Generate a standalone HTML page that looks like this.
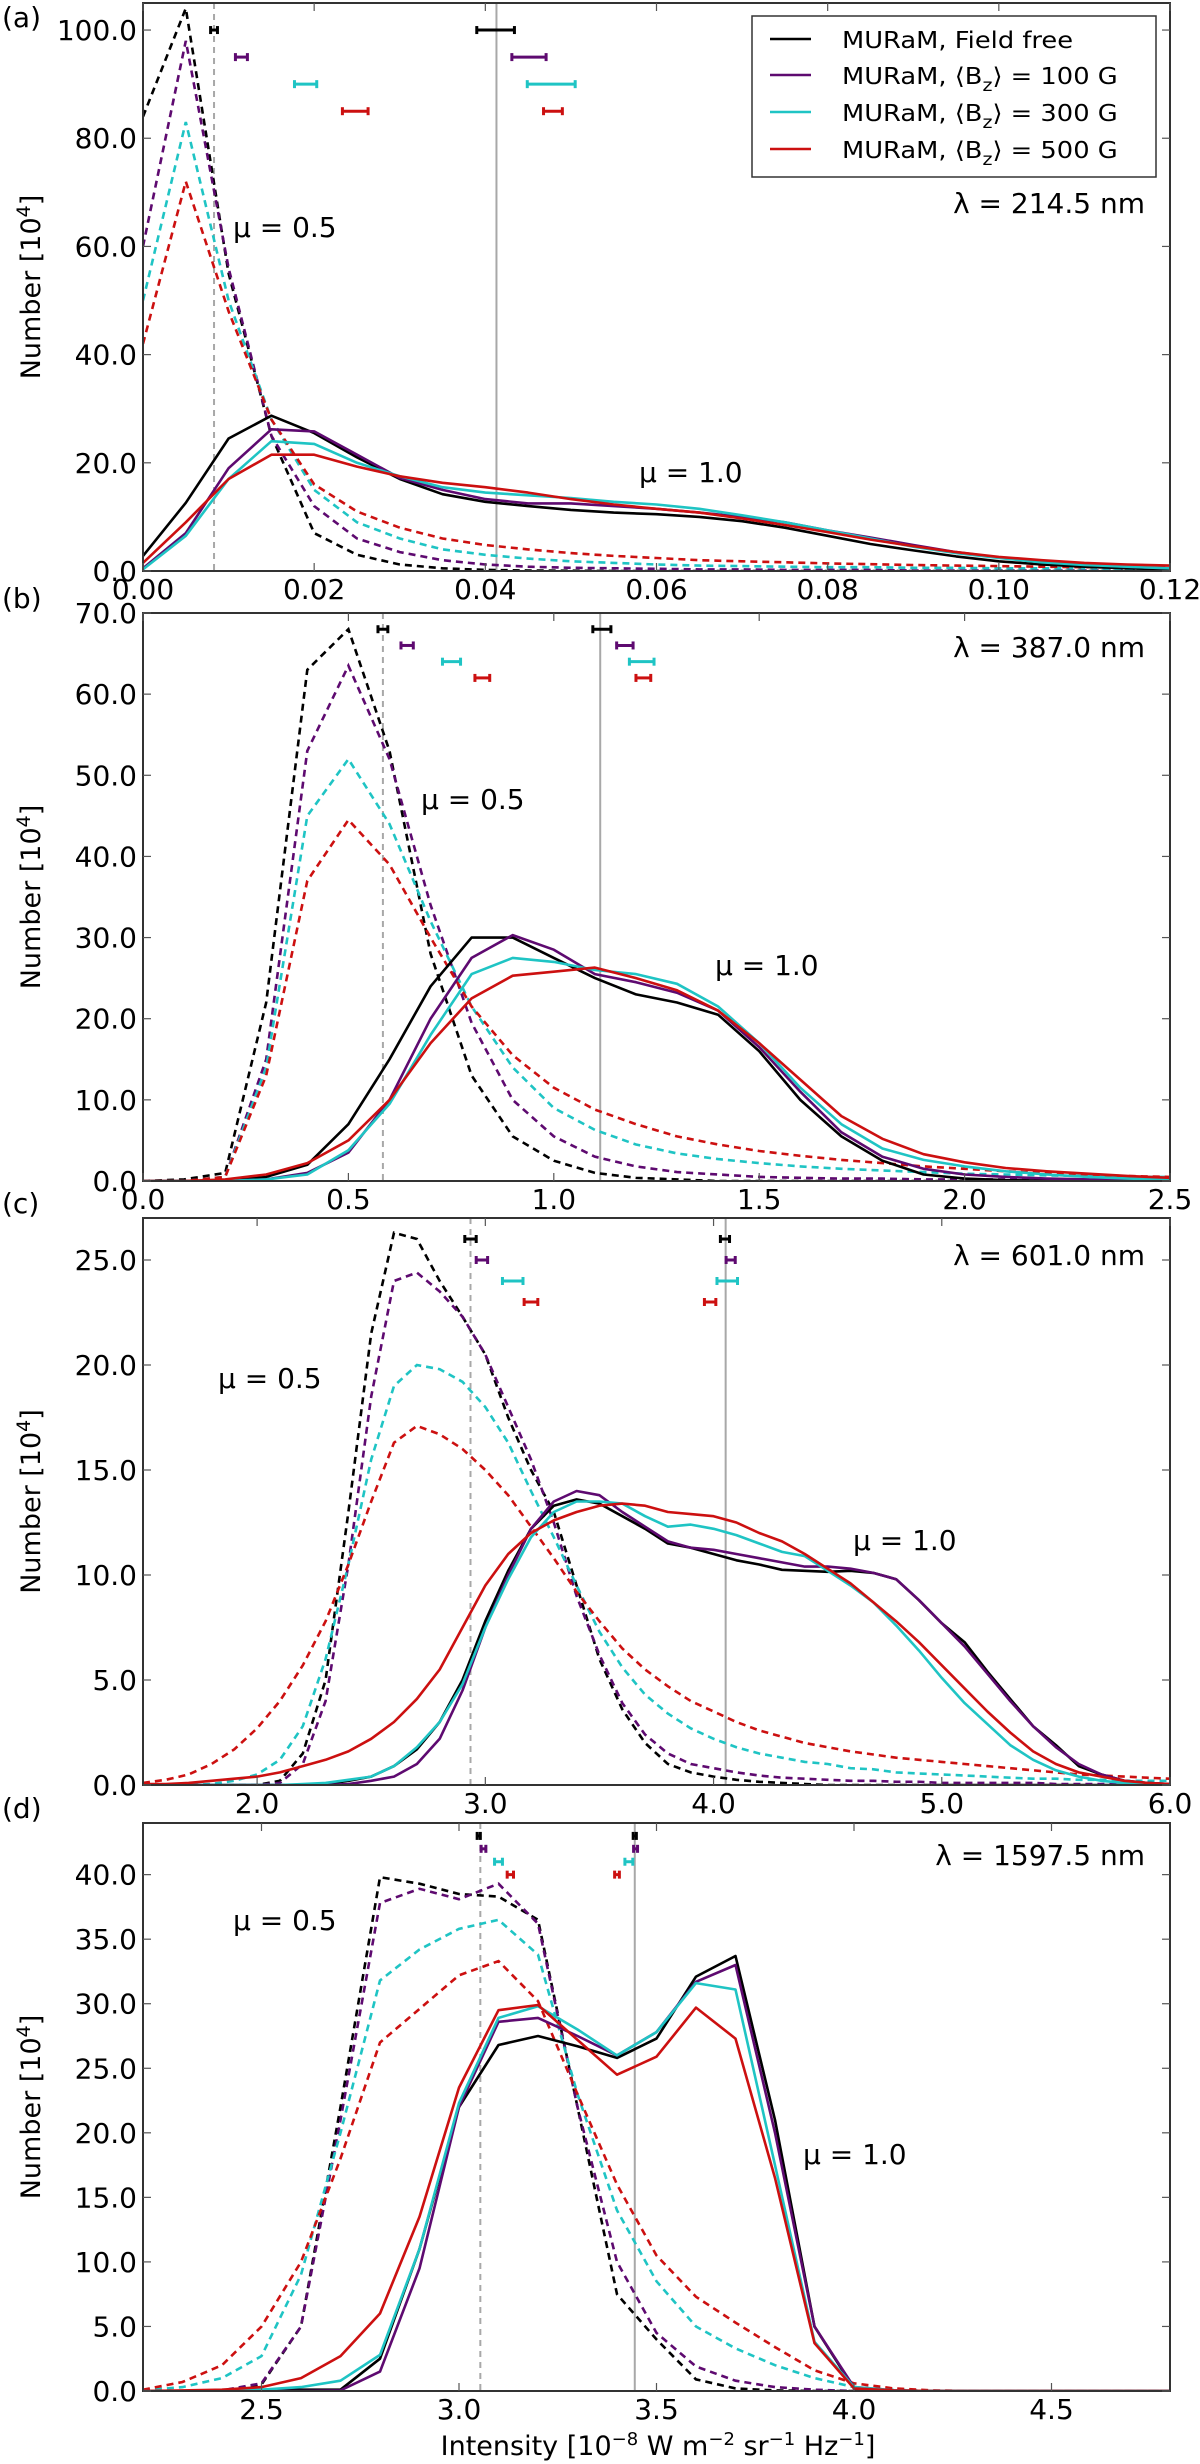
<!DOCTYPE html>
<html><head><meta charset="utf-8">
<style>
html,body{margin:0;padding:0;background:#fff;}
svg{display:block;}
text{font-family:"DejaVu Sans","Liberation Sans",sans-serif;fill:#000;}
</style></head>
<body>
<svg id="fig" xmlns="http://www.w3.org/2000/svg" width="1200" height="2464" viewBox="0 0 1200 2464"></svg>
<script>
// ---------- Panel (a) data: 214.5 nm ----------
const aX = [0,0.005,0.01,0.015,0.02,0.025,0.03,0.035,0.04,0.045,0.05,0.055,0.06,0.065,0.07,0.075,0.08,0.085,0.09,0.095,0.1,0.105,0.11,0.115,0.12];
const aFreeMu1 = [2.8,12.6,24.5,28.7,25.5,21,17,14.2,12.8,12,11.3,10.8,10.5,10,9.2,8,6.5,5,3.8,2.7,1.8,1.2,0.8,0.5,0.3];
const a100Mu1  = [0.5,7,19,26.2,25.8,21.5,17.2,15,13.3,12.5,12.5,12,11.5,10.8,10,9,7.5,6.2,4.8,3.5,2.5,1.8,1.2,0.8,0.5];
const a300Mu1  = [0.3,6.5,17,24,23.5,20,17.5,15.5,14.5,14,13.5,12.8,12.3,11.5,10.3,9,7.5,6,4.5,3.3,2.4,1.6,1.1,0.8,0.5];
const a500Mu1  = [1.5,9,17,21.5,21.5,19.3,17.5,16.3,15.5,14.5,13.3,12.3,11.5,10.8,9.7,8.5,7.2,5.8,4.6,3.5,2.6,2,1.5,1.2,1.0];
const aFreeMu05 = [84,104,55,25,7,3,1.2,0.5,0.2,0.1,0.05,0,0,0,0,0,0,0,0,0,0,0,0,0,0];
const a100Mu05  = [60,98,56,25,12,6,3.5,2,1.2,0.8,0.6,0.5,0.4,0.3,0.3,0.2,0.2,0.2,0.1,0.1,0.1,0.1,0.1,0.1,0.1];
const a300Mu05  = [50,83,50,28,15,9,6,4,3,2.3,1.8,1.5,1.2,1.0,0.9,0.8,0.7,0.7,0.6,0.6,0.5,0.5,0.5,0.4,0.4];
const a500Mu05  = [42,72,48,28,16,11,8,6,4.8,4,3.3,2.8,2.4,2,1.8,1.6,1.4,1.25,1.1,1.0,0.9,0.8,0.7,0.65,0.6];
const aMeanLines = [0.0083,0.0413];
const aErrY = [100,95,90,85];
const aErrLeftC = [0.0083,0.0115,0.019,0.0248];
const aErrLeftW = [0.0004,0.0007,0.0013,0.0015];
const aErrRightC = [0.0412,0.0451,0.0477,0.0479];
const aErrRightW = [0.0022,0.002,0.0028,0.0011];
const aYTicks = [0,20,40,60,80,100];
const aYLabels = ["0.0","20.0","40.0","60.0","80.0","100.0"];
const aXTicks = [0,0.02,0.04,0.06,0.08,0.10,0.12];
const aXLabels = ["0.00","0.02","0.04","0.06","0.08","0.10","0.12"];

// ---------- Panel (b) data: 387.0 nm ----------
const bX = [0,0.1,0.2,0.3,0.4,0.5,0.6,0.7,0.8,0.9,1.0,1.1,1.2,1.3,1.4,1.5,1.6,1.7,1.8,1.9,2.0,2.1,2.2,2.3,2.4,2.5];
const bFreeMu1 = [0,0,0,0.5,2,7,15,24,30,30,27.5,25,23,22,20.5,16,10,5.5,2.5,0.8,0.3,0.1,0.05,0,0,0];
const b100Mu1  = [0,0,0,0.2,1,3.5,10,20,27.5,30.3,28.5,25.5,24.5,23.2,21,16.5,11,6,3,1.5,0.8,0.5,0.3,0.2,0.1,0.1];
const b300Mu1  = [0,0,0,0.2,0.8,3.8,9.5,18,25.5,27.5,27,26,25.5,24.3,21.5,17,11.5,7,4,2.6,1.8,1.2,0.8,0.5,0.3,0.2];
const b500Mu1  = [0,0,0.2,0.8,2.2,5,10,17,22.5,25.3,25.8,26.3,25,23.5,21,17,12.5,8,5.2,3.3,2.3,1.6,1.2,0.9,0.6,0.4];
const bFreeMu05 = [0,0.2,1,22,63,68,53,28,13,5.5,2.5,1,0.4,0.2,0,0,0,0,0,0,0,0,0,0,0,0];
const b100Mu05  = [0,0,0.5,15,53,63.5,52,34,19.5,10,5.5,3,1.8,1.1,0.8,0.5,0.4,0.3,0.3,0.2,0.2,0.2,0.2,0.2,0.2,0.2];
const b300Mu05  = [0,0,0.5,14,45,52,44,32,21.5,14,9,6.3,4.5,3.4,2.7,2.2,1.8,1.5,1.3,1.1,0.9,0.8,0.7,0.6,0.5,0.5];
const b500Mu05  = [0,0,0.5,13,37,44.5,39,30,21.5,15.5,11.5,8.8,7,5.5,4.5,3.7,3.1,2.6,2.2,1.8,1.5,1.2,1.0,0.8,0.6,0.5];
const bMeanLines = [0.584,1.113];
const bErrY = [68,66,64,62];
const bErrLeftC = [0.584,0.643,0.751,0.826];
const bErrLeftW = [0.012,0.015,0.022,0.018];
const bErrRightC = [1.117,1.173,1.214,1.218];
const bErrRightW = [0.022,0.02,0.03,0.018];
const bYTicks = [0,10,20,30,40,50,60,70];
const bYLabels = ["0.0","10.0","20.0","30.0","40.0","50.0","60.0","70.0"];
const bXTicks = [0,0.5,1.0,1.5,2.0,2.5];
const bXLabels = ["0.0","0.5","1.0","1.5","2.0","2.5"];

// ---------- Panel (c) data: 601.0 nm ----------
const cX = [1.5,1.6,1.7,1.8,1.9,2.0,2.1,2.2,2.3,2.4,2.5,2.6,2.7,2.8,2.9,3.0,3.1,3.2,3.3,3.4,3.5,3.6,3.7,3.8,3.9,4.0,4.1,4.2,4.3,4.4,4.5,4.6,4.7,4.8,4.9,5.0,5.1,5.2,5.3,5.4,5.5,5.6,5.7,5.8,5.9,6.0];
const cFreeMu1 = [0,0,0,0,0,0,0,0,0.05,0.2,0.4,0.9,1.7,3.0,5.0,7.8,10.2,12.2,13.3,13.6,13.4,12.8,12.2,11.5,11.3,11.0,10.7,10.5,10.25,10.2,10.15,10.2,10.1,9.8,8.8,7.7,6.8,5.4,4.1,2.8,1.9,0.9,0.5,0.2,0.1,0.05];
const c100Mu1  = [0,0,0,0,0,0,0,0,0,0.05,0.2,0.4,1.0,2.2,4.5,7.5,10.0,12.2,13.5,14.0,13.8,13.0,12.3,11.6,11.3,11.2,11.0,10.8,10.6,10.4,10.4,10.3,10.1,9.8,8.8,7.7,6.6,5.3,4.0,2.8,1.8,1.0,0.5,0.2,0.1,0.05];
const c300Mu1  = [0,0,0,0,0,0,0,0.05,0.1,0.25,0.4,0.9,1.8,3.0,4.8,7.5,9.8,11.8,13.0,13.5,13.5,13.4,12.8,12.3,12.4,12.2,11.9,11.5,11.1,10.9,10.2,9.5,8.7,7.6,6.4,5.1,3.9,2.9,1.9,1.2,0.7,0.4,0.2,0.1,0.05,0];
const c500Mu1  = [0.05,0.05,0.1,0.2,0.3,0.4,0.6,0.9,1.2,1.6,2.2,3.0,4.1,5.5,7.5,9.5,11.0,12.0,12.6,13.0,13.3,13.4,13.3,13.0,12.9,12.8,12.5,12.0,11.6,11.0,10.3,9.6,8.7,7.8,6.8,5.7,4.6,3.5,2.5,1.6,1.0,0.6,0.4,0.2,0.1,0.05];
const cFreeMu05 = [0,0,0,0,0,0,0.2,1.5,5,13,21.5,26.3,26.0,24.0,22.3,20.5,17.5,15,13,9.5,6,3.6,2,1.0,0.6,0.4,0.25,0.15,0.1,0.05,0,0,0,0,0,0,0,0,0,0,0,0,0,0,0,0];
const c100Mu05  = [0,0,0,0,0,0,0.1,1.0,4,10.5,18.5,24,24.4,23.5,22.3,20.5,18,15.5,12.5,9,6.2,3.9,2.4,1.5,1.0,0.8,0.6,0.45,0.35,0.3,0.25,0.2,0.2,0.15,0.15,0.1,0.1,0.1,0.1,0.1,0.05,0.05,0.05,0.05,0.05,0.05];
const c300Mu05  = [0,0,0,0.05,0.2,0.5,1.2,2.8,6,10.5,15.5,19,20,19.8,19.2,18,16.3,14,11.8,9.5,7.3,5.6,4.3,3.4,2.7,2.2,1.8,1.5,1.3,1.1,1.0,0.8,0.75,0.6,0.55,0.5,0.45,0.4,0.35,0.3,0.3,0.25,0.25,0.2,0.2,0.2];
const c500Mu05  = [0.1,0.25,0.5,1.0,1.7,2.7,4.0,5.7,7.8,10.5,13.5,16.3,17.1,16.7,16.0,15.0,13.8,12.3,10.8,9.2,7.8,6.5,5.5,4.7,4.0,3.5,3.0,2.6,2.3,2.0,1.8,1.6,1.45,1.3,1.2,1.1,1.0,0.9,0.8,0.7,0.6,0.5,0.45,0.4,0.35,0.3];
const cMeanLines = [2.935,4.053];
const cErrY = [26,25,24,23];
const cErrLeftC = [2.935,2.985,3.12,3.2];
const cErrLeftW = [0.025,0.025,0.045,0.03];
const cErrRightC = [4.05,4.075,4.06,3.985];
const cErrRightW = [0.02,0.02,0.045,0.025];
const cYTicks = [0,5,10,15,20,25];
const cYLabels = ["0.0","5.0","10.0","15.0","20.0","25.0"];
const cXTicks = [2,3,4,5,6];
const cXLabels = ["2.0","3.0","4.0","5.0","6.0"];

// ---------- Panel (d) data: 1597.5 nm ----------
const dX = [2.2,2.3,2.4,2.5,2.6,2.7,2.8,2.9,3.0,3.1,3.2,3.3,3.4,3.5,3.6,3.7,3.8,3.9,4.0,4.1,4.2,4.3,4.4,4.5,4.6,4.7,4.8];
const dFreeMu1 = [0,0,0,0.1,0.1,0.1,2.5,11,22,26.8,27.5,26.7,25.8,27.3,32.1,33.7,21,5,0.2,0.05,0,0,0,0,0,0,0];
const d100Mu1  = [0,0,0,0,0,0.05,1.5,9.5,22,28.6,28.9,27.5,26,27.8,31.7,33.0,20,5,0.3,0.05,0,0,0,0,0,0,0];
const d300Mu1  = [0,0,0,0.1,0.3,0.8,2.8,11,22.3,28.9,29.8,28,26,27.8,31.6,31.1,17.5,3.8,0.3,0.05,0,0,0,0,0,0,0];
const d500Mu1  = [0,0.05,0.1,0.3,1.0,2.7,6,13.5,23.5,29.5,29.9,27.2,24.5,25.9,29.7,27.3,16.5,3.7,0.2,0.05,0,0,0,0,0,0,0];
const dFreeMu05 = [0,0,0.05,0.5,5,22,39.8,39.3,38.5,38.3,36.5,22,7.5,4,0.9,0.2,0.05,0,0,0,0,0,0,0,0,0,0];
const d100Mu05  = [0,0,0.05,0.6,5,21,37.8,38.9,38.1,39.3,36.2,22,10,4.5,1.9,0.8,0.3,0.1,0,0,0,0,0,0,0,0,0];
const d300Mu05  = [0.05,0.3,1.0,2.7,9,20,31.8,34.2,35.8,36.5,33.8,23,14,8.5,5,3.3,2,1.0,0.3,0.1,0,0,0,0,0,0,0];
const d500Mu05  = [0.1,0.7,2,5,10,18,27,29.6,32.2,33.3,30.2,23,16,10.5,7.3,5.3,3.4,1.6,0.6,0.2,0.05,0,0,0,0,0,0];
const dMeanLines = [3.054,3.445];
const dErrY = [43,42,41,40];
const dErrLeftC = [3.05,3.062,3.1,3.13];
const dErrLeftW = [0.004,0.006,0.01,0.008];
const dErrRightC = [3.445,3.447,3.43,3.4];
const dErrRightW = [0.004,0.005,0.01,0.006];
const dYTicks = [0,5,10,15,20,25,30,35,40];
const dYLabels = ["0.0","5.0","10.0","15.0","20.0","25.0","30.0","35.0","40.0"];
const dXTicks = [2.5,3.0,3.5,4.0,4.5];
const dXLabels = ["2.5","3.0","3.5","4.0","4.5"];

const COLORS = ["#000000","#5e0a70","#1fc4c4","#cc1010"];
const NS = "http://www.w3.org/2000/svg";
const svg = document.getElementById('fig');
function mk(tag, attrs, parent){
  const e = document.createElementNS(NS, tag);
  for (const k in attrs) e.setAttribute(k, attrs[k]);
  (parent||svg).appendChild(e);
  return e;
}

const L = 143, R = 1170;
const panels = [
  {id:'a', top:3, bot:571, xmin:0, xmax:0.12, ymax:105, x:aX, mu1:[aFreeMu1,a100Mu1,a300Mu1,a500Mu1], mu05:[aFreeMu05,a100Mu05,a300Mu05,a500Mu05],
   means:aMeanLines, ey:aErrY, elc:aErrLeftC, elw:aErrLeftW, erc:aErrRightC, erw:aErrRightW, yt:aYTicks, yl:aYLabels, xt:aXTicks, xl:aXLabels,
   lam:"λ = 214.5 nm", lamY:213, m05:[233,237], m10:[639,482]},
  {id:'b', top:613, bot:1181, xmin:0, xmax:2.5, ymax:70, x:bX, mu1:[bFreeMu1,b100Mu1,b300Mu1,b500Mu1], mu05:[bFreeMu05,b100Mu05,b300Mu05,b500Mu05],
   means:bMeanLines, ey:bErrY, elc:bErrLeftC, elw:bErrLeftW, erc:bErrRightC, erw:bErrRightW, yt:bYTicks, yl:bYLabels, xt:bXTicks, xl:bXLabels,
   lam:"λ = 387.0 nm", lamY:657, m05:[421,809], m10:[715,975]},
  {id:'c', top:1218, bot:1785, xmin:1.5, xmax:6.0, ymax:27, x:cX, mu1:[cFreeMu1,c100Mu1,c300Mu1,c500Mu1], mu05:[cFreeMu05,c100Mu05,c300Mu05,c500Mu05],
   means:cMeanLines, ey:cErrY, elc:cErrLeftC, elw:cErrLeftW, erc:cErrRightC, erw:cErrRightW, yt:cYTicks, yl:cYLabels, xt:cXTicks, xl:cXLabels,
   lam:"λ = 601.0 nm", lamY:1265, m05:[218,1388], m10:[853,1550]},
  {id:'d', top:1823, bot:2391, xmin:2.2, xmax:4.8, ymax:44, x:dX, mu1:[dFreeMu1,d100Mu1,d300Mu1,d500Mu1], mu05:[dFreeMu05,d100Mu05,d300Mu05,d500Mu05],
   means:dMeanLines, ey:dErrY, elc:dErrLeftC, elw:dErrLeftW, erc:dErrRightC, erw:dErrRightW, yt:dYTicks, yl:dYLabels, xt:dXTicks, xl:dXLabels,
   lam:"λ = 1597.5 nm", lamY:1865, m05:[233,1930], m10:[803,2164]}
];
const SERIES = ['field-free','bz-100g','bz-300g','bz-500g'];

panels.forEach(p => {
  const g = mk('g', {});
  
  
  const sx = v => L + (v - p.xmin) / (p.xmax - p.xmin) * (R - L);
  const sy = v => p.bot - v / p.ymax * (p.bot - p.top);
  const clipId = 'clip' + p.id;
  const cp = mk('clipPath', {id: clipId}, g);
  mk('rect', {x:L, y:p.top, width:R-L, height:p.bot-p.top}, cp);
  const plot = mk('g', {'clip-path':'url(#'+clipId+')'}, g);

  p.means.forEach((m, i) => {
    const ln = mk('line', {x1:sx(m), x2:sx(m), y1:p.top, y2:p.bot, stroke:'#a8a8a8', 'stroke-width':2, 'stroke-dasharray': i===0 ? '6,5' : 'none'}, plot);
    
    
  });
  p.mu05.forEach((arr, s) => {
    const d = arr.map((v, i) => (i ? 'L' : 'M') + sx(p.x[i]).toFixed(1) + ',' + sy(v).toFixed(1)).join('');
    const path = mk('path', {d:d, fill:'none', stroke:COLORS[s], 'stroke-width':2.6, 'stroke-dasharray':'7,5'}, plot);
    
    
  });
  p.mu1.forEach((arr, s) => {
    const d = arr.map((v, i) => (i ? 'L' : 'M') + sx(p.x[i]).toFixed(1) + ',' + sy(v).toFixed(1)).join('');
    const path = mk('path', {d:d, fill:'none', stroke:COLORS[s], 'stroke-width':2.6, 'stroke-linejoin':'round'}, plot);
    
    
  });
  function errbar(c, w, y, s, side){
    const eg = mk('g', {stroke:COLORS[s], 'stroke-width':3}, plot);
    
    
    const x1 = sx(c - w), x2 = sx(c + w), yy = sy(y);
    mk('line', {x1:x1, x2:x2, y1:yy, y2:yy}, eg);
    mk('line', {x1:x1, x2:x1, y1:yy-4, y2:yy+4}, eg);
    mk('line', {x1:x2, x2:x2, y1:yy-4, y2:yy+4}, eg);
  }
  for (let s = 0; s < 4; s++) {
    errbar(p.elc[s], p.elw[s], p.ey[s], s, 'mu05');
    errbar(p.erc[s], p.erw[s], p.ey[s], s, 'mu10');
  }
  const fr = mk('rect', {x:L, y:p.top, width:R-L, height:p.bot-p.top, fill:'none', stroke:'#333', 'stroke-width':2}, g);
  
  
  p.yt.forEach((t, i) => {
    const y = sy(t);
    mk('line', {x1:L, x2:L+8, y1:y, y2:y, stroke:'#555', 'stroke-width':1.2}, g);
    mk('line', {x1:R, x2:R-8, y1:y, y2:y, stroke:'#555', 'stroke-width':1.2}, g);
    const tx = mk('text', {x:137, y:y+10, 'text-anchor':'end', 'font-size':28}, g);
    tx.textContent = p.yl[i];
    
    
  });
  p.xt.forEach((t, i) => {
    const x = sx(t);
    mk('line', {x1:x, x2:x, y1:p.bot, y2:p.bot-8, stroke:'#555', 'stroke-width':1.2}, g);
    mk('line', {x1:x, x2:x, y1:p.top, y2:p.top+8, stroke:'#555', 'stroke-width':1.2}, g);
    const tx = mk('text', {x:x, y:p.bot+28, 'text-anchor':'middle', 'font-size':28}, g);
    tx.textContent = p.xl[i];
    
    
  });
  const cy = (p.top + p.bot) / 2;
  const yt = mk('text', {x:0, y:0, transform:'translate(40,'+cy+') rotate(-90)', 'text-anchor':'middle', 'font-size':27}, g);
  yt.innerHTML = 'Number [10<tspan dy="-10" font-size="19">4</tspan><tspan dy="10">]</tspan>';
  
  
  const pl = mk('text', {x:2, y:p.top + (p.id==='a' ? 24 : -5), 'font-size':28}, g);
  pl.textContent = '(' + p.id + ')';
  
  
  const lt = mk('text', {x:1145, y:p.lamY, 'text-anchor':'end', 'font-size':28}, g);
  lt.textContent = p.lam;
  
  
  const m5 = mk('text', {x:p.m05[0], y:p.m05[1], 'font-size':28}, g);
  m5.textContent = 'μ = 0.5';
  
  
  const m1 = mk('text', {x:p.m10[0], y:p.m10[1], 'font-size':28}, g);
  m1.textContent = 'μ = 1.0';
  
  
});

// legend
const lg = mk('g', {});


mk('rect', {x:752, y:16, width:404, height:161, fill:'#fff', stroke:'#333', 'stroke-width':1.5}, lg);
const legLabels = ['MURaM, Field free','MURaM, ⟨B<tspan dy="7" font-size="17">z</tspan><tspan dy="-7">⟩ = 100 G</tspan>','MURaM, ⟨B<tspan dy="7" font-size="17">z</tspan><tspan dy="-7">⟩ = 300 G</tspan>','MURaM, ⟨B<tspan dy="7" font-size="17">z</tspan><tspan dy="-7">⟩ = 500 G</tspan>'];
const legLineY = [39,75,112,149];
for (let s = 0; s < 4; s++) {
  const eg = mk('g', {}, lg);
  
  
  mk('line', {x1:770, x2:811, y1:legLineY[s], y2:legLineY[s], stroke:COLORS[s], 'stroke-width':2.5}, eg);
  const t = mk('text', {x:0, y:0, transform:'translate(842,' + (legLineY[s]+9) + ') scale(1.12,1)', 'font-size':23}, eg);
  t.innerHTML = legLabels[s];
}

const xt = mk('text', {x:658, y:2455, 'text-anchor':'middle', 'font-size':27});
xt.innerHTML = 'Intensity [10<tspan dy="-10" font-size="18">−8</tspan><tspan dy="10"> W m</tspan><tspan dy="-10" font-size="18">−2</tspan><tspan dy="10"> sr</tspan><tspan dy="-10" font-size="18">−1</tspan><tspan dy="10"> Hz</tspan><tspan dy="-10" font-size="18">−1</tspan><tspan dy="10">]</tspan>';


</script>
</body></html>
